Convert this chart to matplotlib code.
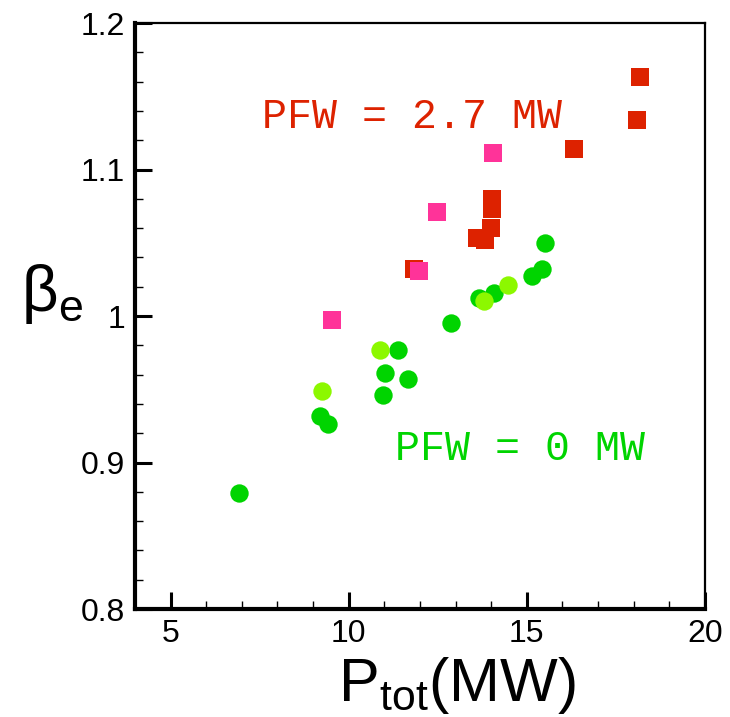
import numpy as np
import matplotlib
matplotlib.use("Agg")
import matplotlib.pyplot as plt
from matplotlib.ticker import MultipleLocator

plt.rcParams['font.family'] = ['Liberation Sans', 'DejaVu Sans']
plt.rcParams['mathtext.fontset'] = 'custom'
plt.rcParams['mathtext.rm'] = 'Liberation Sans'
plt.rcParams['mathtext.it'] = 'Liberation Sans'

# PFW = 2.7 MW (red) and second set (pink)
red_p = [18.18, 18.10, 16.31, 14.02, 14.02, 14.00, 13.60, 13.83, 11.82]
red_b = [1.163, 1.134, 1.114, 1.080, 1.073, 1.060, 1.053, 1.052, 1.032]
pink_p = [14.04, 12.47, 11.97, 9.52]
pink_b = [1.111, 1.071, 1.031, 0.997]

# PFW = 0 MW (green) and second set (light green)
green_p = [15.52, 15.43, 15.15, 14.08, 13.66, 12.88, 11.39, 11.03, 11.67,
           10.96, 9.18, 9.41, 6.91]
green_b = [1.050, 1.032, 1.027, 1.016, 1.012, 0.995, 0.977, 0.961, 0.957,
           0.946, 0.932, 0.926, 0.879]
lgreen_p = [14.48, 13.80, 10.89, 9.25]
lgreen_b = [1.021, 1.010, 0.977, 0.949]

c_red = '#DD2200'
c_pink = '#FF3399'
c_green = '#00D400'
c_lgreen = '#8CF800'

fig = plt.figure(figsize=(7.30, 7.17), dpi=100)
ax = fig.add_axes([0.1849, 0.1506, 0.7808, 0.8173])

ax.scatter(red_p, red_b, marker='s', s=185, color=c_red, linewidths=0, zorder=3)
ax.scatter(pink_p, pink_b, marker='s', s=185, color=c_pink, linewidths=0, zorder=3)
ax.scatter(green_p, green_b, marker='o', s=175, color=c_green, linewidths=0, zorder=3)
ax.scatter(lgreen_p, lgreen_b, marker='o', s=175, color=c_lgreen, linewidths=0, zorder=3)

ax.text(11.79, 1.1356, 'PFW = 2.7 MW', color=c_red, fontsize=30,
        family='Liberation Mono', ha='center', va='center')
ax.text(14.80, 0.9092, 'PFW = 0 MW', color=c_green, fontsize=30,
        family='Liberation Mono', ha='center', va='center')

ax.set_xlim(4, 20)
ax.set_ylim(0.8, 1.2)
ax.xaxis.set_major_locator(MultipleLocator(5))
ax.xaxis.set_minor_locator(MultipleLocator(1))
ax.yaxis.set_minor_locator(MultipleLocator(0.02))
ax.set_yticks([0.8, 0.9, 1.0, 1.1, 1.2])
ax.set_yticklabels(['0.8', '0.9', '1', '1.1', '1.2'])

ax.tick_params(which='major', direction='in', length=12, width=2.2,
               labelsize=23, pad=7)
ax.tick_params(which='minor', direction='in', length=6, width=1)
ax.tick_params(axis='x', which='major', pad=7)

for s in ['left', 'bottom']:
    ax.spines[s].set_linewidth(3)
for s in ['top', 'right']:
    ax.spines[s].set_linewidth(1.6)

fig.text(457 / 730, 1 - 701 / 717, r'$\mathregular{P_{tot}}$(MW)', fontsize=44,
         ha='center', va='baseline')
fig.text(52 / 730, 1 - 294 / 717, r'$\mathregular{\beta_e}$', fontsize=46,
         ha='center', va='center')

fig.savefig('out.png', dpi=100)
